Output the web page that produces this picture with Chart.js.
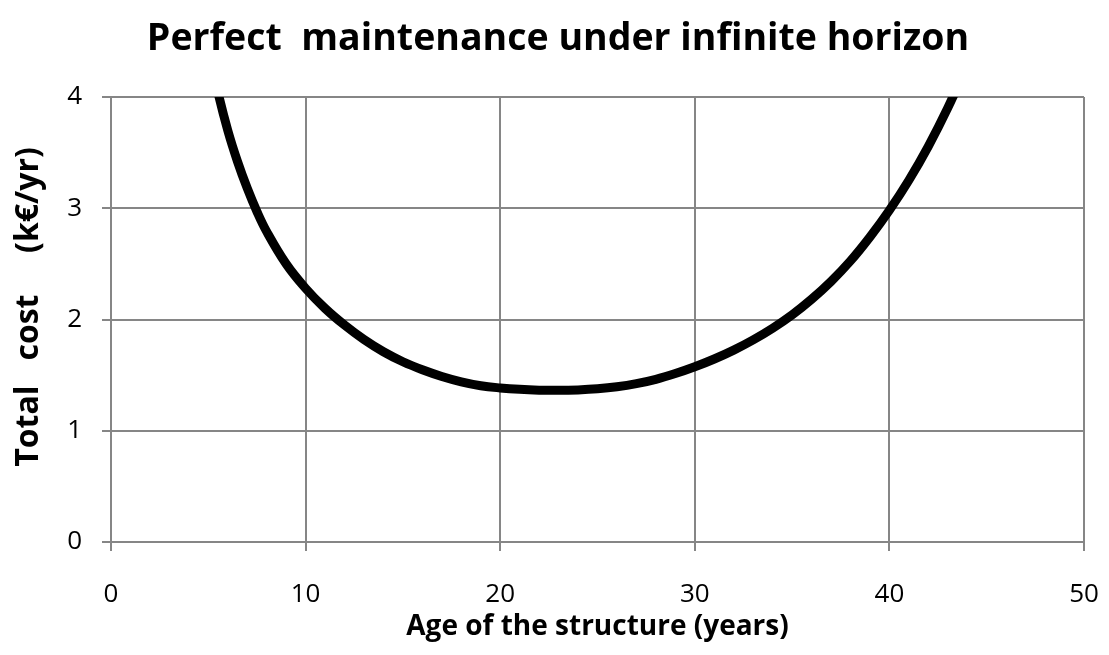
<!DOCTYPE html>
<html lang="en">
<head>
    <meta charset="UTF-8">
    <title>Perfect maintenance under infinite horizon</title>
    <script src="https://cdn.jsdelivr.net/npm/chart.js"></script>
    <style>
        html, body { margin: 0; padding: 0; background: #ffffff; }
        .wrap { width: 1109px; height: 655px; }
    </style>
</head>
<body>
<div class="wrap">
    <canvas id="costChart" width="1109" height="655"></canvas>
</div>

<script>
    // age of the structure (years) and total cost (k€/yr)
    const ages = [5.0, 5.5, 6, 6.5, 7, 7.5, 8, 9, 10, 11, 12, 13, 14, 15, 16, 17, 18, 19, 20, 21, 22, 23, 24, 25, 26, 27, 28, 29, 30, 31, 32, 33, 34, 35, 36, 37, 38, 39, 40, 41, 42, 43, 44];
    const totalCost = [4.45, 4.04, 3.70, 3.42, 3.18, 2.97, 2.79, 2.50, 2.28, 2.10, 1.95, 1.82, 1.71, 1.62, 1.548, 1.488, 1.44, 1.405, 1.385, 1.372, 1.365, 1.363, 1.367, 1.377, 1.395, 1.423, 1.462, 1.514, 1.575, 1.645, 1.725, 1.817, 1.922, 2.042, 2.182, 2.342, 2.527, 2.742, 2.982, 3.252, 3.557, 3.902, 4.29];
    const xTicks = [0, 10, 20, 30, 40, 50];
    const yTicks = [0, 1, 2, 3, 4];

    const chartTitle = 'Perfect  maintenance under infinite horizon';
    const yTitle = 'Total   cost     (k€/yr)';
    const xTitle = 'Age of the structure (years)';

    const points = ages.map((a, i) => ({ x: a, y: totalCost[i] }));
    const gridGray = '#868686';

    // main title and y title drawn by hand so they sit where Excel put them
    const fixedTitles = {
        id: 'fixedTitles',
        afterDraw(chart) {
            const c = chart.ctx;
            c.save();
            c.fillStyle = '#000000';
            c.textAlign = 'center';
            c.textBaseline = 'middle';
            c.font = 'bold 37.5px "Open Sans"';
            c.fillText(chartTitle, 558, 39);
            c.translate(29, 307);
            c.rotate(-Math.PI / 2);
            c.font = 'bold 32px "Open Sans"';
            c.fillText(yTitle, 0, 0);
            c.restore();
        }
    };

    const ctx = document.getElementById('costChart').getContext('2d');
    const costChart = new Chart(ctx, {
        type: 'line',
        data: {
            datasets: [{
                label: 'Total cost',
                data: points,
                borderColor: '#000000',
                borderWidth: 9,
                pointRadius: 0,
                tension: 0.4,
                clip: 0
            }]
        },
        options: {
            responsive: false,
            animation: false,
            layout: {
                padding: { top: 97, right: 25, bottom: 0, left: 0 }
            },
            plugins: {
                legend: { display: false },
                tooltip: { enabled: false },
                title: { display: false }
            },
            scales: {
                x: {
                    type: 'linear',
                    min: xTicks[0],
                    max: xTicks[xTicks.length - 1],
                    afterBuildTicks: function(scale) {
                        scale.ticks = xTicks.map(v => ({ value: v }));
                    },
                    afterFit: function(scale) {
                        scale.height = 113;
                        scale.paddingLeft = 0;
                        scale.paddingRight = 0;
                    },
                    grid: { color: gridGray, lineWidth: 2, tickLength: 9 },
                    border: { color: gridGray, width: 2 },
                    ticks: {
                        color: '#000000',
                        padding: 28,
                        maxRotation: 0,
                        font: { family: 'Open Sans', size: 26 }
                    },
                    title: {
                        display: true,
                        text: xTitle,
                        color: '#000000',
                        font: { family: 'Open Sans', size: 28, weight: 'bold' },
                        padding: { top: 0, bottom: 11 }
                    }
                },
                y: {
                    type: 'linear',
                    min: yTicks[0],
                    max: yTicks[yTicks.length - 1],
                    afterBuildTicks: function(scale) {
                        scale.ticks = yTicks.map(v => ({ value: v }));
                    },
                    afterFit: function(scale) {
                        scale.width = 111;
                        scale.paddingTop = 0;
                        scale.paddingBottom = 0;
                    },
                    grid: { color: gridGray, lineWidth: 2, tickLength: 9 },
                    border: { color: gridGray, width: 2 },
                    ticks: {
                        color: '#000000',
                        padding: 20,
                        font: { family: 'Open Sans', size: 26 }
                    }
                }
            }
        },
        plugins: [fixedTitles]
    });
</script>
</body>
</html>
